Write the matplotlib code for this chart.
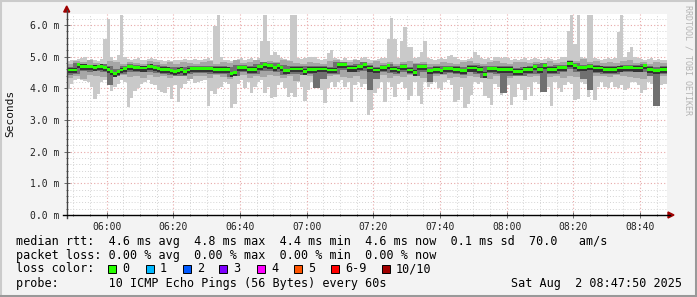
import pandas as pd
import matplotlib
matplotlib.use("Agg")
import matplotlib.pyplot as plt
import matplotlib.dates as mdates
from matplotlib.ticker import MultipleLocator, FuncFormatter
from matplotlib.patches import Rectangle, Polygon
from matplotlib.lines import Line2D

W, H = 697, 297
MONO = "DejaVu Sans Mono"

# one value per minute, 05:48 .. 08:47
times = pd.date_range("2025-08-02 05:48", periods=180, freq="1min").to_pydatetime()
# inner smoke bands are read at two-minute steps
times2 = pd.date_range("2025-08-02 05:48", periods=90, freq="2min").to_pydatetime()

median = [
    4.58, 4.58, 4.58, 4.75, 4.70, 4.70, 4.68, 4.68, 4.67, 4.68,
    4.70, 4.66, 4.60, 4.52, 4.47, 4.52, 4.58, 4.62, 4.68, 4.68,
    4.66, 4.66, 4.64, 4.64, 4.68, 4.70, 4.66, 4.62, 4.60, 4.60,
    4.60, 4.55, 4.52, 4.57, 4.60, 4.53, 4.58, 4.62, 4.62, 4.62,
    4.62, 4.62, 4.62, 4.62, 4.60, 4.60, 4.60, 4.60, 4.60, 4.47,
    4.50, 4.66, 4.66, 4.66, 4.60, 4.60, 4.60, 4.68, 4.68, 4.75,
    4.72, 4.72, 4.66, 4.72, 4.66, 4.56, 4.56, 4.61, 4.61, 4.61,
    4.61, 4.54, 4.60, 4.60, 4.60, 4.61, 4.61, 4.61, 4.58, 4.58,
    4.58, 4.75, 4.75, 4.75, 4.64, 4.64, 4.64, 4.68, 4.68, 4.75,
    4.64, 4.64, 4.58, 4.58, 4.66, 4.66, 4.71, 4.61, 4.61, 4.58,
    4.68, 4.68, 4.58, 4.58, 4.51, 4.68, 4.68, 4.68, 4.56, 4.56,
    4.60, 4.60, 4.56, 4.62, 4.62, 4.62, 4.60, 4.60, 4.56, 4.56,
    4.64, 4.64, 4.64, 4.60, 4.60, 4.45, 4.62, 4.62, 4.62, 4.60,
    4.60, 4.60, 4.60, 4.60, 4.54, 4.54, 4.54, 4.60, 4.60, 4.60,
    4.68, 4.60, 4.60, 4.72, 4.60, 4.60, 4.60, 4.66, 4.66, 4.66,
    4.79, 4.79, 4.72, 4.66, 4.66, 4.66, 4.68, 4.68, 4.64, 4.64,
    4.64, 4.60, 4.60, 4.60, 4.60, 4.64, 4.64, 4.66, 4.66, 4.66,
    4.64, 4.64, 4.64, 4.71, 4.60, 4.60, 4.56, 4.56, 4.60, 4.60,
]

ping_max = [
    4.85, 4.88, 4.90, 4.92, 4.95, 5.00, 4.88, 4.92, 4.88, 4.85,
    4.92, 5.55, 6.19, 5.00, 4.90, 5.05, 6.33, 5.00, 4.92, 4.90,
    4.92, 4.95, 4.90, 4.88, 4.92, 4.95, 4.92, 4.90, 4.88, 4.86,
    4.88, 4.86, 4.90, 4.88, 4.90, 4.92, 4.88, 4.90, 4.93, 4.90,
    4.88, 4.92, 4.95, 4.90, 5.97, 6.31, 5.00, 4.90, 4.88, 4.86,
    4.88, 4.92, 4.95, 4.90, 4.92, 4.95, 4.90, 4.95, 5.50, 6.33,
    5.50, 5.05, 5.14, 5.05, 4.95, 4.92, 4.90, 6.33, 6.33, 4.95,
    4.92, 4.95, 5.00, 5.00, 4.98, 4.92, 4.90, 4.92, 5.10, 5.22,
    4.95, 4.92, 4.90, 4.95, 4.90, 4.88, 4.92, 4.90, 4.95, 4.98,
    4.92, 4.90, 4.88, 4.92, 4.95, 4.95, 5.55, 6.22, 5.55, 4.95,
    5.50, 5.95, 5.30, 5.30, 4.95, 4.98, 5.15, 5.50, 4.95, 4.92,
    4.90, 4.92, 4.95, 4.92, 5.02, 5.05, 5.00, 4.92, 4.90, 4.88,
    4.92, 4.95, 5.14, 5.05, 4.95, 4.92, 4.95, 4.90, 4.98, 4.98,
    4.96, 4.98, 4.95, 4.90, 4.92, 4.90, 4.92, 4.95, 4.90, 4.92,
    4.95, 4.92, 4.90, 4.92, 4.95, 4.92, 4.90, 4.92, 4.98, 5.00,
    5.80, 6.33, 5.40, 6.31, 4.98, 4.95, 6.33, 6.33, 4.95, 4.92,
    4.90, 4.92, 4.95, 4.92, 4.95, 5.77, 6.33, 4.98, 5.15, 5.29,
    4.98, 4.95, 4.92, 4.90, 4.92, 4.95, 4.90, 4.92, 4.88, 4.90,
]

ping_min = [
    3.98, 4.15, 4.25, 4.30, 4.25, 4.22, 4.20, 4.05, 3.66, 3.82,
    4.20, 4.25, 4.10, 3.92, 4.05, 4.15, 4.25, 4.20, 3.40, 3.68,
    3.90, 4.00, 4.15, 4.20, 4.25, 4.15, 4.10, 3.95, 3.88, 3.84,
    4.05, 3.65, 4.10, 3.58, 4.00, 4.15, 4.22, 4.28, 4.18, 4.20,
    4.22, 4.25, 3.44, 3.90, 3.82, 4.00, 4.05, 4.20, 4.15, 3.37,
    3.50, 4.15, 4.25, 4.00, 4.20, 3.84, 4.05, 4.20, 4.25, 3.85,
    4.05, 3.70, 3.74, 4.10, 4.20, 4.00, 3.72, 3.84, 3.72, 4.20,
    4.05, 3.61, 3.95, 4.20, 4.05, 4.15, 3.95, 3.53, 4.00, 4.20,
    4.05, 4.20, 4.25, 4.05, 4.20, 3.58, 4.10, 4.20, 4.05, 4.15,
    3.16, 3.30, 3.85, 4.00, 4.20, 3.56, 4.20, 4.05, 3.72, 4.15,
    4.20, 4.00, 3.63, 3.75, 4.20, 3.75, 3.50, 4.20, 4.05, 4.15,
    4.20, 4.00, 3.95, 4.20, 4.25, 4.10, 3.56, 3.64, 4.05, 3.39,
    3.50, 3.80, 4.20, 4.15, 4.20, 3.75, 3.68, 3.47, 4.15, 4.05,
    3.78, 4.00, 4.10, 3.47, 3.72, 4.15, 3.95, 3.63, 4.05, 3.75,
    4.20, 4.15, 3.89, 3.95, 4.05, 3.45, 4.20, 4.00, 3.89, 4.10,
    4.20, 4.15, 3.63, 3.66, 4.20, 4.15, 3.72, 4.20, 3.63, 4.05,
    4.20, 4.05, 4.00, 4.20, 4.05, 4.00, 4.10, 3.95, 4.00, 4.20,
    4.20, 4.10, 3.84, 3.95, 4.20, 4.15, 3.44, 3.90, 4.10, 4.15,
]

band_hi = [
    4.78, 4.86, 4.82, 4.88, 4.80, 4.76, 4.86, 4.82, 4.78, 4.84,
    4.80, 4.76, 4.86, 4.82, 4.76, 4.82, 4.78, 4.84, 4.80, 4.76,
    4.82, 4.86, 4.78, 4.82, 4.80, 4.88, 4.80, 4.84, 4.88, 4.80,
    4.86, 4.82, 4.88, 4.86, 4.80, 4.76, 4.84, 4.80, 4.76, 4.86,
    4.88, 4.80, 4.84, 4.90, 4.84, 4.80, 4.86, 4.80, 4.84, 4.78,
    4.82, 4.86, 4.80, 4.84, 4.78, 4.76, 4.84, 4.80, 4.78, 4.82,
    4.86, 4.80, 4.76, 4.82, 4.86, 4.80, 4.78, 4.82, 4.84, 4.80,
    4.84, 4.80, 4.86, 4.80, 4.84, 4.90, 4.86, 4.92, 4.84, 4.86,
    4.80, 4.84, 4.80, 4.86, 4.88, 4.80, 4.84, 4.78, 4.82, 4.80,
]

band_lo = [
    4.32, 4.40, 4.28, 4.42, 4.38, 4.36, 4.25, 4.40, 4.42, 4.36,
    4.40, 4.33, 4.42, 4.36, 4.40, 4.34, 4.40, 4.42, 4.28, 4.38,
    4.40, 4.33, 4.42, 4.36, 4.28, 4.40, 4.42, 4.34, 4.40, 4.36,
    4.42, 4.40, 4.33, 4.38, 4.22, 4.42, 4.40, 4.30, 4.36, 4.40,
    4.42, 4.36, 4.33, 4.40, 4.28, 4.36, 4.40, 4.42, 4.34, 4.40,
    4.36, 4.42, 4.40, 4.33, 4.36, 4.40, 4.42, 4.34, 4.36, 4.33,
    4.40, 4.36, 4.42, 4.28, 4.40, 4.36, 4.33, 4.40, 4.42, 4.36,
    4.40, 4.22, 4.36, 4.40, 4.34, 4.40, 4.36, 4.42, 4.36, 4.40,
    4.40, 4.36, 4.42, 4.40, 4.36, 4.34, 4.28, 4.40, 4.36, 4.40,
]

dark_hi = [
    4.66, 4.80, 4.77, 4.75, 4.75, 4.76, 4.70, 4.62, 4.72, 4.76,
    4.75, 4.72, 4.78, 4.74, 4.70, 4.68, 4.66, 4.68, 4.70, 4.72,
    4.72, 4.72, 4.70, 4.70, 4.68, 4.75, 4.75, 4.70, 4.76, 4.82,
    4.80, 4.80, 4.74, 4.70, 4.70, 4.70, 4.70, 4.70, 4.70, 4.68,
    4.82, 4.82, 4.74, 4.76, 4.82, 4.74, 4.68, 4.75, 4.78, 4.70,
    4.76, 4.68, 4.76, 4.76, 4.66, 4.70, 4.70, 4.72, 4.70, 4.66,
    4.74, 4.74, 4.70, 4.72, 4.72, 4.70, 4.70, 4.64, 4.68, 4.70,
    4.76, 4.80, 4.70, 4.74, 4.75, 4.86, 4.80, 4.75, 4.76, 4.74,
    4.72, 4.70, 4.72, 4.75, 4.75, 4.74, 4.78, 4.70, 4.66, 4.70,
]

dark_lo = [
    4.42, 4.46, 4.55, 4.52, 4.55, 4.52, 4.10, 4.38, 4.45, 4.52,
    4.52, 4.50, 4.52, 4.48, 4.46, 4.42, 4.40, 4.40, 4.44, 4.48,
    4.48, 4.46, 4.45, 4.46, 4.35, 4.38, 4.52, 4.46, 4.46, 4.55,
    4.55, 4.52, 4.42, 4.44, 4.46, 4.42, 4.46, 4.00, 4.30, 4.45,
    4.46, 4.58, 4.50, 4.50, 4.55, 3.95, 4.30, 4.50, 4.48, 4.45,
    4.52, 4.45, 4.38, 4.52, 4.20, 4.46, 4.44, 4.48, 4.46, 4.42,
    4.50, 4.46, 4.32, 4.48, 4.46, 3.85, 4.40, 4.40, 4.40, 4.45,
    4.46, 3.89, 4.46, 4.46, 4.50, 4.60, 4.50, 4.30, 3.95, 4.48,
    4.46, 4.46, 4.46, 4.50, 4.50, 4.50, 4.50, 4.40, 3.44, 4.45,
]

loss_labels = ["0", "1", "2", "3", "4", "5", "6-9", "10/10"]
loss_colors = ["#26ff00", "#00b8ff", "#0059ff", "#7e00ff",
               "#ff00ff", "#ff5500", "#ff0000", "#a10000"]
loss_box_x = [108, 146, 183, 219, 257, 294, 331, 382]

legend_lines = [
    "median rtt:  4.6 ms avg  4.8 ms max  4.4 ms min  4.6 ms now  0.1 ms sd  70.0   am/s",
    "packet loss: 0.00 % avg  0.00 % max  0.00 % min  0.00 % now",
    "loss color:",
    "probe:       10 ICMP Echo Pings (56 Bytes) every 60s",
]
stamp = "Sat Aug  2 08:47:50 2025"


def fx(x):
    return x / W


def fy(y):
    return 1 - y / H


fig = plt.figure(figsize=(W / 100, H / 100), dpi=100, facecolor="#f3f3f3")
ax = fig.add_axes([fx(66.7), fy(215), (666.7 - 66.7) / W, (215 - 14) / H])
ax.set_facecolor("white")

one = 1 / 1440
med_s = pd.Series(median)
ax.bar(times, [a - b for a, b in zip(ping_max, ping_min)], bottom=ping_min,
       width=one, align="edge", color="#c9c9c9", linewidth=0, zorder=2)
ax.bar(times2, [a - b for a, b in zip(band_hi, band_lo)], bottom=band_lo,
       width=2 * one, align="edge", color="#a6a6a6", linewidth=0, zorder=3)
ax.bar(times2, [a - b for a, b in zip(dark_hi, dark_lo)], bottom=dark_lo,
       width=2 * one, align="edge", color="#707070", linewidth=0, zorder=4)
# darkest core and the green median marker (0 % loss)
ax.bar(times, 0.17, bottom=med_s - 0.11, width=one, align="edge",
       color="#333333", linewidth=0, zorder=5)
ax.bar(times, 0.09, bottom=med_s - 0.045, width=one, align="edge",
       color=loss_colors[0], linewidth=0, zorder=6)

ax.set_xlim(pd.Timestamp("2025-08-02 05:48"), pd.Timestamp("2025-08-02 08:48"))
ax.set_ylim(0, 6.347)

ax.xaxis.set_major_locator(mdates.MinuteLocator(byminute=[0, 20, 40]))
ax.xaxis.set_minor_locator(mdates.MinuteLocator(byminute=range(0, 60, 5)))
ax.xaxis.set_major_formatter(mdates.DateFormatter("%H:%M"))
ax.yaxis.set_major_locator(MultipleLocator(1))
ax.yaxis.set_minor_locator(MultipleLocator(0.2))
ax.yaxis.set_major_formatter(FuncFormatter(lambda v, p: "%.1f m" % v))

ax.grid(which="minor", color="#d4d4d4", linestyle=(0, (1, 2)), linewidth=0.7, zorder=1)
ax.grid(which="major", color="#e8a8a8", linestyle=(0, (1, 2)), linewidth=0.8, zorder=1)
ax.set_axisbelow(True)

for s in ax.spines.values():
    s.set_visible(False)
ax.tick_params(which="both", direction="inout", color="#555555", width=0.6)
ax.tick_params(which="major", length=4, pad=3)
ax.tick_params(which="minor", length=2)
for lab in ax.get_xticklabels() + ax.get_yticklabels():
    lab.set_fontfamily(MONO)
    lab.set_fontsize(7)
    lab.set_color("#222222")

fig.text(fx(10), fy(113), "Seconds", rotation=90, ha="center", va="center",
         fontfamily=MONO, fontsize=8, color="#111111")
fig.text(fx(688), fy(5), "RRDTOOL / TOBI OETIKER", rotation=270, ha="center",
         va="top", fontfamily=MONO, fontsize=6, color="#b4b4b4")

# axis lines with arrows
fig.add_artist(Line2D([fx(66.7), fx(66.7)], [fy(218), fy(10)], color="#444444", lw=1))
fig.add_artist(Line2D([fx(63), fx(670)], [fy(215), fy(215)], color="#000000", lw=1))
fig.add_artist(Polygon([(fx(63.7), fy(12)), (fx(69.7), fy(12)), (fx(66.7), fy(6))],
                       closed=True, color="#a00000", transform=fig.transFigure))
fig.add_artist(Polygon([(fx(668), fy(212)), (fx(668), fy(218)), (fx(674), fy(215))],
                       closed=True, color="#a00000", transform=fig.transFigure))

# legend
for i, line in enumerate(legend_lines):
    fig.text(fx(16), fy(241 + 14 * i), line, ha="left", va="center",
             fontfamily=MONO, fontsize=8.5, color="black")
fig.text(fx(682), fy(283), stamp, ha="right", va="center",
         fontfamily=MONO, fontsize=8.5, color="black")
for bx, lab, col in zip(loss_box_x, loss_labels, loss_colors):
    fig.add_artist(Rectangle((fx(bx), fy(273)), 8 / W, 8 / H, facecolor=col,
                             edgecolor="black", lw=0.7, transform=fig.transFigure))
    fig.text(fx(bx + 14), fy(269), lab, ha="left", va="center",
             fontfamily=MONO, fontsize=8.5, color="black")

# 3d frame
fig.add_artist(Line2D([0, 1], [fy(0.5), fy(0.5)], color="#cbcbcb", lw=1.5))
fig.add_artist(Line2D([fx(0.5), fx(0.5)], [0, 1], color="#cbcbcb", lw=1.5))
fig.add_artist(Line2D([0, 1], [fy(296), fy(296)], color="#999999", lw=2.2))
fig.add_artist(Line2D([fx(696), fx(696)], [0, 1], color="#999999", lw=2.2))

fig.savefig("out.png", dpi=100, facecolor=fig.get_facecolor())
